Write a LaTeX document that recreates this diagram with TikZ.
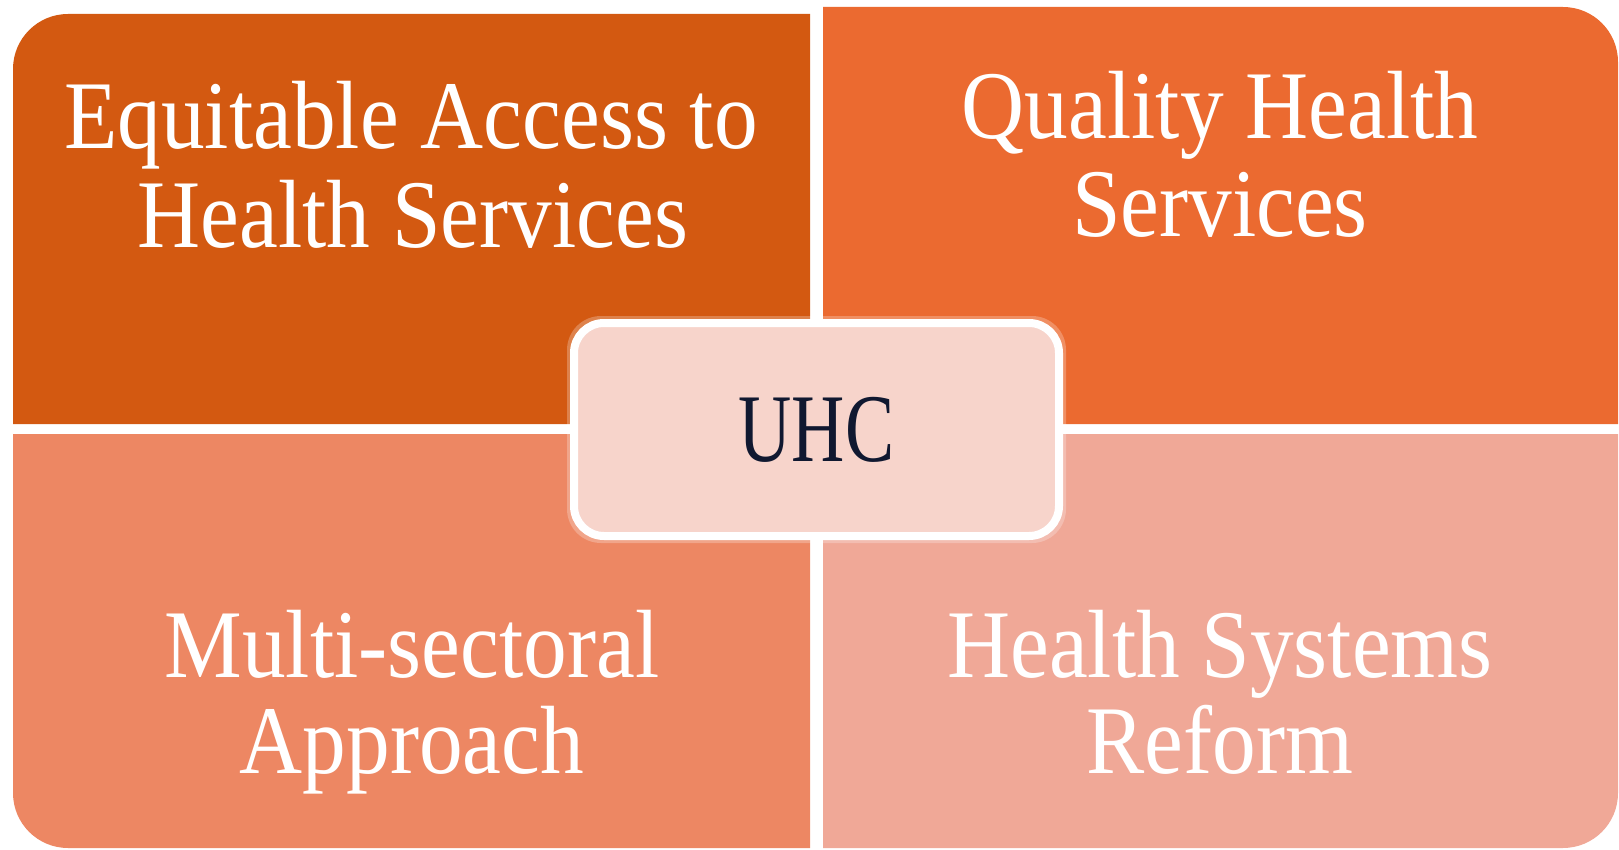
\documentclass[tikz,border=0pt]{standalone}
\usepackage{fontspec}
\setmainfont{Liberation Serif}
\newfontfamily\quadfont[FakeStretch=0.9]{Liberation Serif}
\newfontfamily\hubfont[FakeStretch=0.76]{Liberation Serif}
\definecolor{qtl}{HTML}{D35911}
\definecolor{qtr}{HTML}{EB6A30}
\definecolor{qbl}{HTML}{ED8763}
\definecolor{qbr}{HTML}{F0A897}
\definecolor{hubfill}{HTML}{F7D4CB}
\definecolor{hubtext}{HTML}{101830}
\tikzset{
  qtext/.style={text=white, font=\quadfont\fontsize{97}{98}\selectfont, inner sep=0pt, anchor=base},
  hubbox/.style={draw=white, line width=8pt, fill=hubfill, rounded corners=30pt,
    minimum width=485pt, minimum height=213pt, inner sep=0pt,
    text=hubtext, font=\hubfont\fontsize{97}{98}\selectfont},
  glow/.style={fill=white, fill opacity=0.25, rounded corners=34pt,
    minimum width=499pt, minimum height=227pt, inner sep=0pt}
}
\begin{document}
\begin{tikzpicture}[x=1pt,y=-1pt]
\useasboundingbox (0,0) rectangle (1619,850);
% quadrants
\fill[qtl] (13,424) [rounded corners=55pt]-- (13,14) [sharp corners]-- (810,14) -- (810,424) -- cycle;
\fill[qtr] (823,7) [rounded corners=55pt]-- (1618,7) [sharp corners]-- (1618,424) -- (823,424) -- cycle;
\fill[qbl] (13,434) [rounded corners=55pt]-- (13,848) [sharp corners]-- (810,848) -- (810,434) -- cycle;
\fill[qbr] (823,848) [rounded corners=55pt]-- (1618,848) [sharp corners]-- (1618,434) -- (823,434) -- cycle;
% texts
\node[qtext] (eq1) at (411,149) {Equitable Access to};
\node[qtext] (eq2) at (413,248) {Health Services};
\node[qtext] (ql1) at (1220,139) {Quality Health};
\node[qtext] (ql2) at (1220,237) {Services};
\node[qtext] (ms1) at (412,677) {Multi-sectoral};
\node[qtext] (ms2) at (412,773) {Approach};
\node[qtext] (hs1) at (1220,677) {Health Systems};
\node[qtext] (hs2) at (1220,773) {Reform};
% hub
\node[glow] (halo) at (816.5,429.5) {};
\node[hubbox] (hub) at (816.5,429.5) {UHC};
\end{tikzpicture}
\end{document}
